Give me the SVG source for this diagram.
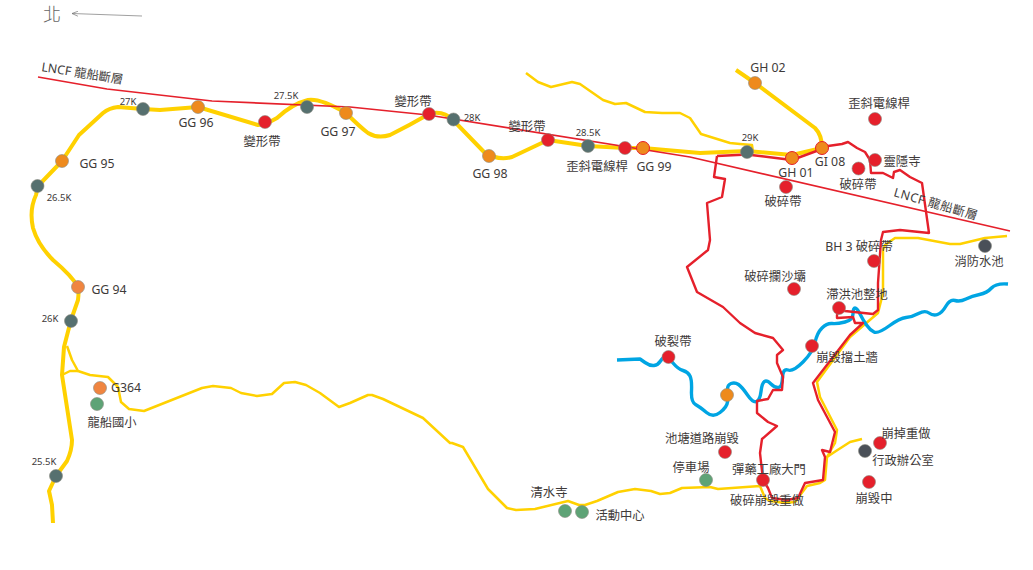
<svg xmlns="http://www.w3.org/2000/svg" width="1033" height="570" viewBox="0 0 1033 570">
<style>
text{font-family:"Noto Sans","Noto Sans CJK TC",sans-serif;fill:#3e3a39;font-size:12.3px;text-anchor:middle}
.k{font-size:9.5px}
.f{font-size:12.3px;text-anchor:start}
.p{stroke:#8a8a80;stroke-width:.6}
.gy{fill:#56706f}.or{fill:#ee8a1d}.ol{fill:#f08540}.rd{fill:#e5202b}.gr{fill:#5ea376}.dk{fill:#4a5058}
.orr{fill:#ee8a1d;stroke:#e5202b;stroke-width:1}
polyline,path{fill:none;stroke-linejoin:round;stroke-linecap:butt}
.y1{stroke:#ffd100;stroke-width:4}
.y2{stroke:#ffd100;stroke-width:2.5}
.r{stroke:#e5202b;stroke-width:2.4}
.fa{stroke:#e5202b;stroke-width:1.6}
.b{stroke:#00a5e3;stroke-width:3.4}
</style>
<defs><marker id="ah" markerUnits="userSpaceOnUse" markerWidth="8" markerHeight="6" refX="6" refY="3" orient="auto"><polyline points="0,0.5 6,3 0,5.5" stroke="#777" stroke-width=".7"/></marker></defs>
<g id="connectors">
<path class="y1" d="M53,523 L52,505 L49,491 L56,476 L67,461 Q72,450 72,440 L62,375 L64,347 L71,320 L78,300 Q79,292 78,287 Q72,276 53,260 Q38,245 33,228 Q29,210 36,195 L38,186 L62,161 L79,135 L103,113 Q109,108 118,107 L143,109 L160,110 L198,107 L258,125 Q265,125 277,118 Q292,104 308,100 Q320,98 346,113 Q360,127 368,133 Q378,139 390,135 Q410,125 429,114 Q443,110 453,120 L484,152 Q498,161 512,157 L548,140 L588,146 L625,148 L643,148 L700,153 L747,151 L792,155 L822,148"/>
<path class="y1" d="M736,70 L755,83 L815,128 Q822,135 822,148"/>
<polyline class="y2" points="526,73 538,82 551,87 572,82 580,84 603,100 615,104 626,103 645,112 662,113 680,113 690,118 701,134 730,143 740,144 752,145 753,152"/>
<polyline class="y2" points="67,346 72,360 78,371 90,375 108,377 118,387 121,402 129,409 144,411 202,388 213,386 231,388 241,393 257,396 272,394 284,383 295,382 306,385 320,393 339,407 350,403 368,395 372,395 383,399 423,418 450,443 452,443 463,447 488,489 507,508 516,510 535,509 568,501 579,505 585,505 597,501 618,492 635,489 651,491 660,494 670,493 682,488 710,487 718,489 760,486 765,498 770,501 785,503 795,502 807,486 820,483 825,480 827,457 835,443 837,430 820,397 817,382 850,337 878,313 883,293 883,250 885,245 895,238 918,238 950,244 960,244 985,238 1007,236"/>
<polyline class="y2" points="62,375 70,371 78,371"/>
<polyline class="y2" points="827,457 836,451 850,442 862,439"/>
<path class="b" d="M617,360 L640,359 L645,362.5 Q650,366 654,365.5 Q658,365 660.5,361 Q663,357 665.5,357 Q668,357 673,363 Q678,369 683,370.5 Q688,372 690,376 Q692,380 691.5,391 Q691,402 695.5,404.5 Q700,407 706.5,412.5 Q713,418 720,412.5 Q727,407 727.5,402 Q728,397 727.5,391 Q727,385 731,383.5 Q735,382 738.5,384.5 Q742,387 747.5,395 Q753,403 756.5,401.5 Q760,400 761,391.5 Q762,383 764.5,381.5 Q767,380 771,384 Q775,388 778.5,387.5 Q782,387 782.5,377.5 Q783,368 788,370 Q793,372 803,362 Q813,352 815,342.5 Q817,333 822,328 Q827,323 832,323.5 Q837,324 845,322 Q853,320 853,314 Q853,308 855,308 Q857,308 860,314 Q863,320 866.5,325 Q870,330 874,332 Q878,334 889,326 Q900,318 906,317.5 Q912,317 918.5,313.5 Q925,310 929,313 Q933,316 937.5,314.5 Q942,313 946,306 Q950,299 955,300.5 Q960,302 966,299 Q972,296 979.5,294.5 Q987,293 991.5,288 Q996,283 1008,284"/>
<polyline class="r" points="717,156 714,177 725,179 722,197 707,203 710,240 708,250 687,267 697,292 723,307 740,323 755,333 773,338 783,350 777,355 777,363 783,377 782,390 773,390 768,399 757,401 757,413 768,422 777,426 762,439 760,453 763,480 768,488 772,498 787,500 798,498 805,483 823,480 825,457 822,450 830,452 835,432 818,400 813,383 850,335 863,323 855,323 853,317 837,318 837,315 839,309 845,311 873,314 878,310 878,283 881,240 883,232 900,230 929,233 922,183 910,177 900,170 894,172 893,178 883,173 871,173 870,160 865,152 857,148 848,142 842,144 828,146 822,149 792,160 747,154.5 717,156"/>
<polyline class="fa" points="38,77 107,89 212,101 350,107 428,115 690,157 1010,231"/>
<polyline points="142,16 72,13.5" stroke="#777" stroke-width=".7" marker-end="url(#ah)"/>
</g>
<g id="north"><text x="52" y="21" style="font-size:18px;font-weight:300;fill:#666">北</text></g>
<g id="fault-label-1"><text class="f" transform="translate(41,71) rotate(9)">LNCF 龍船斷層</text></g>
<g id="fault-label-2"><text class="f" transform="translate(893,196) rotate(16)" style="letter-spacing:.5px">LNCF 龍船斷層</text></g>
<g id="k27"><circle class="p gy" cx="143" cy="109" r="6.5"/><text class="k" x="128" y="105">27K</text></g>
<g id="gg96"><circle class="p or" cx="198" cy="107" r="6.5"/><text x="196" y="127">GG 96</text></g>
<g id="def1"><circle class="p rd" cx="265" cy="122" r="6.5"/><text x="262" y="146">變形帶</text></g>
<g id="k275"><circle class="p gy" cx="307" cy="107" r="6.5"/><text class="k" x="286" y="99">27.5K</text></g>
<g id="gg97"><circle class="p or" cx="346" cy="113" r="6.5"/><text x="338" y="136">GG 97</text></g>
<g id="gg95"><circle class="p or" cx="62" cy="161" r="6.5"/><text x="97" y="168">GG 95</text></g>
<g id="k265"><circle class="p gy" cx="37.5" cy="186" r="6.5"/><text class="k" x="59" y="201">26.5K</text></g>
<g id="gg94"><circle class="p ol" cx="78" cy="287" r="6.5"/><text x="109" y="294">GG 94</text></g>
<g id="k26"><circle class="p gy" cx="71" cy="321" r="6.5"/><text class="k" x="50" y="322">26K</text></g>
<g id="g364"><circle class="p ol" cx="100" cy="388" r="6.5"/><text x="126" y="392">G364</text></g>
<g id="school"><circle class="p gr" cx="97" cy="404" r="6.5"/><text x="112" y="427">龍船國小</text></g>
<g id="k255"><circle class="p gy" cx="56" cy="476" r="6.5"/><text class="k" x="44" y="465">25.5K</text></g>
<g id="def2"><circle class="p rd" cx="429" cy="114" r="6.5"/><text x="413" y="106">變形帶</text></g>
<g id="k28"><circle class="p gy" cx="453.5" cy="119.5" r="6.5"/><text class="k" x="472" y="121">28K</text></g>
<g id="gg98"><circle class="p or" cx="489" cy="156" r="6.5"/><text x="490" y="178">GG 98</text></g>
<g id="def3"><circle class="p rd" cx="548" cy="140" r="6.5"/><text x="527" y="131">變形帶</text></g>
<g id="k285"><circle class="p gy" cx="588" cy="146" r="6.5"/><text class="k" x="588" y="136">28.5K</text></g>
<g id="pole1"><circle class="p rd" cx="625" cy="148" r="6.5"/><text x="597" y="171">歪斜電線桿</text></g>
<g id="gg99"><circle class="orr" cx="643" cy="148" r="6.5"/><text x="654" y="171">GG 99</text></g>
<g id="k29"><circle class="p gy" cx="747" cy="152" r="6.5"/><text class="k" x="750" y="141">29K</text></g>
<g id="gh01"><circle class="orr" cx="792" cy="158" r="6.5"/><text x="796" y="177">GH 01</text></g>
<g id="gi08"><circle class="orr" cx="822" cy="148" r="6.5"/><text x="830" y="166">GI 08</text></g>
<g id="gh02"><circle class="p or" cx="755" cy="83" r="6.5"/><text x="768" y="72">GH 02</text></g>
<g id="pole2"><circle class="p rd" cx="875" cy="119" r="6.5"/><text x="879" y="108">歪斜電線桿</text></g>
<g id="temple"><circle class="p rd" cx="875" cy="160" r="6.5"/><text x="902" y="166">靈隱寺</text></g>
<g id="brk1"><circle class="p rd" cx="858.5" cy="168.5" r="6.5"/><text x="858" y="189">破碎帶</text></g>
<g id="brk2"><circle class="p rd" cx="786" cy="187" r="6.5"/><text x="783" y="206">破碎帶</text></g>
<g id="bh3"><circle class="p rd" cx="874" cy="261" r="6.5"/><text x="859" y="251">BH 3 破碎帶</text></g>
<g id="pond"><circle class="p dk" cx="985" cy="246" r="6.5"/><text x="979" y="266">消防水池</text></g>
<g id="dam"><circle class="p rd" cx="794" cy="289" r="6.5"/><text x="775" y="281">破碎攔沙壩</text></g>
<g id="basin"><circle class="p rd" cx="839" cy="308" r="6.5"/><text x="857" y="299">滯洪池整地</text></g>
<g id="wall"><circle class="p rd" cx="812" cy="346" r="6.5"/><text x="847" y="362">崩毀擋土牆</text></g>
<g id="crack"><circle class="p rd" cx="668.5" cy="357" r="6.5"/><text x="673" y="346">破裂帶</text></g>
<g id="orange"><circle class="p or" cx="727" cy="395" r="6.5"/></g>
<g id="pondroad"><circle class="p rd" cx="725" cy="452" r="6.5"/><text x="702" y="443">池塘道路崩毀</text></g>
<g id="parking"><circle class="p gr" cx="706" cy="480" r="6.5"/><text x="691" y="472">停車場</text></g>
<g id="gate"><circle class="p rd" cx="763" cy="480" r="6.5"/><text x="769" y="474">彈藥工廠大門</text></g>
<g id="redo"><text x="767" y="505">破碎崩毀重做</text></g>
<g id="redo2"><circle class="p rd" cx="880" cy="443" r="6.5"/><text x="906" y="438">崩掉重做</text></g>
<g id="office"><circle class="p dk" cx="865" cy="451" r="6.5"/><text x="903" y="465">行政辦公室</text></g>
<g id="collapsing"><circle class="p rd" cx="869" cy="482" r="6.5"/><text x="874" y="503">崩毀中</text></g>
<g id="qingshui"><circle class="p gr" cx="565" cy="511" r="6.5"/><text x="549" y="497">清水寺</text></g>
<g id="center"><circle class="p gr" cx="582" cy="512" r="6.5"/><text x="620" y="520">活動中心</text></g>
</svg>
